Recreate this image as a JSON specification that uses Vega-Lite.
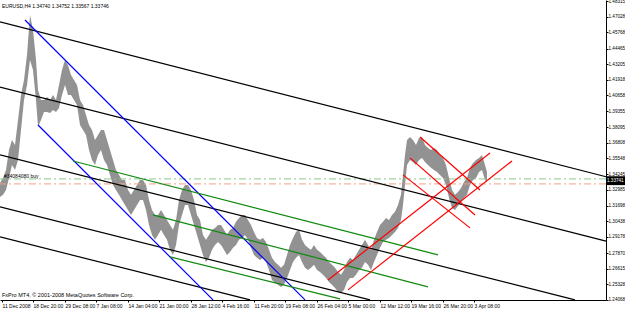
{
  "$schema": "https://vega.github.io/schema/vega-lite/v6.json",
  "width": 606,
  "height": 300,
  "autosize": "none",
  "padding": {"left": 0, "top": 0, "right": 19, "bottom": 10},
  "background": "white",
  "config": {
    "view": {"stroke": null},
    "font": "Liberation Sans, sans-serif",
    "axis": {"grid": false, "domainColor": "black", "tickColor": "black", "labelColor": "black", "labelFontSize": 5, "tickSize": 2, "labelPadding": 1, "labelOverlap": false, "labelFlush": false},
    "axisY": {"labelOverlap": false, "labelFontSize": 4.6, "labelPadding": 0, "labelAlign": "left", "labelBaseline": "middle"},
    "axisX": {"labelOverlap": false, "labelAlign": "left", "labelBaseline": "top"}
  },
  "datasets": {
    "bars": [
      {"bar":0,"high":1.3356,"low":1.3242},{"bar":3,"high":1.3396,"low":1.3259},{"bar":6,"high":1.3461,"low":1.3299},{"bar":9,"high":1.3624,"low":1.3396},{"bar":12,"high":1.3705,"low":1.3502},{"bar":15,"high":1.3664,"low":1.3461},{"bar":18,"high":1.3867,"low":1.3542},{"bar":21,"high":1.4070,"low":1.3786},{"bar":24,"high":1.4191,"low":1.4029},{"bar":27,"high":1.4394,"low":1.4151},{"bar":30,"high":1.4718,"low":1.4353},{"bar":33,"high":1.4597,"low":1.4272},{"bar":36,"high":1.4353,"low":1.4029},{"bar":38,"high":1.4110,"low":1.3810},{"bar":41,"high":1.4029,"low":1.3867},{"bar":44,"high":1.4029,"low":1.3932},{"bar":47,"high":1.4053,"low":1.3932},{"bar":50,"high":1.4029,"low":1.3924},{"bar":53,"high":1.4070,"low":1.3948},{"bar":56,"high":1.4029,"low":1.3932},{"bar":59,"high":1.4151,"low":1.3964},{"bar":62,"high":1.4272,"low":1.4070},{"bar":65,"high":1.4353,"low":1.4151},{"bar":68,"high":1.4313,"low":1.4070},{"bar":71,"high":1.4232,"low":1.4070},{"bar":74,"high":1.4191,"low":1.4029},{"bar":77,"high":1.4151,"low":1.3988},{"bar":80,"high":1.4029,"low":1.3826},{"bar":83,"high":1.3988,"low":1.3786},{"bar":86,"high":1.3907,"low":1.3745},{"bar":89,"high":1.3826,"low":1.3624},{"bar":92,"high":1.3786,"low":1.3542},{"bar":95,"high":1.3705,"low":1.3502},{"bar":98,"high":1.3745,"low":1.3583},{"bar":101,"high":1.3786,"low":1.3624},{"bar":104,"high":1.3786,"low":1.3542},{"bar":107,"high":1.3705,"low":1.3502},{"bar":110,"high":1.3624,"low":1.3421},{"bar":113,"high":1.3542,"low":1.3340},{"bar":116,"high":1.3461,"low":1.3299},{"bar":119,"high":1.3421,"low":1.3259},{"bar":122,"high":1.3380,"low":1.3218},{"bar":125,"high":1.3380,"low":1.3177},{"bar":128,"high":1.3299,"low":1.3137},{"bar":131,"high":1.3259,"low":1.3096},{"bar":134,"high":1.3299,"low":1.3137},{"bar":137,"high":1.3340,"low":1.3177},{"bar":140,"high":1.3380,"low":1.3218},{"bar":143,"high":1.3380,"low":1.3218},{"bar":146,"high":1.3340,"low":1.3137},{"bar":149,"high":1.3218,"low":1.3015},{"bar":152,"high":1.3137,"low":1.2934},{"bar":155,"high":1.3096,"low":1.2894},{"bar":158,"high":1.3096,"low":1.2934},{"bar":161,"high":1.3137,"low":1.2975},{"bar":164,"high":1.3096,"low":1.2934},{"bar":167,"high":1.3056,"low":1.2894},{"bar":170,"high":1.3015,"low":1.2813},{"bar":173,"high":1.2975,"low":1.2772},{"bar":176,"high":1.3056,"low":1.2853},{"bar":179,"high":1.3218,"low":1.3015},{"bar":182,"high":1.3299,"low":1.3096},{"bar":185,"high":1.3340,"low":1.3177},{"bar":188,"high":1.3340,"low":1.3177},{"bar":191,"high":1.3299,"low":1.3096},{"bar":194,"high":1.3218,"low":1.3015},{"bar":197,"high":1.3096,"low":1.2934},{"bar":200,"high":1.3056,"low":1.2853},{"bar":203,"high":1.2934,"low":1.2772},{"bar":206,"high":1.2894,"low":1.2715},{"bar":209,"high":1.2934,"low":1.2748},{"bar":212,"high":1.2975,"low":1.2813},{"bar":215,"high":1.2991,"low":1.2853},{"bar":218,"high":1.3015,"low":1.2877},{"bar":221,"high":1.3015,"low":1.2853},{"bar":224,"high":1.2975,"low":1.2813},{"bar":227,"high":1.2934,"low":1.2772},{"bar":230,"high":1.2975,"low":1.2796},{"bar":233,"high":1.2991,"low":1.2829},{"bar":236,"high":1.3040,"low":1.2853},{"bar":239,"high":1.3072,"low":1.2894},{"bar":242,"high":1.3096,"low":1.2910},{"bar":245,"high":1.3096,"low":1.2934},{"bar":248,"high":1.3056,"low":1.2894},{"bar":251,"high":1.3015,"low":1.2829},{"bar":254,"high":1.2958,"low":1.2772},{"bar":257,"high":1.2910,"low":1.2748},{"bar":260,"high":1.2894,"low":1.2731},{"bar":263,"high":1.2910,"low":1.2748},{"bar":266,"high":1.2877,"low":1.2715},{"bar":269,"high":1.2813,"low":1.2650},{"bar":272,"high":1.2748,"low":1.2569},{"bar":275,"high":1.2715,"low":1.2545},{"bar":278,"high":1.2691,"low":1.2529},{"bar":281,"high":1.2667,"low":1.2512},{"bar":284,"high":1.2691,"low":1.2529},{"bar":287,"high":1.2772,"low":1.2585},{"bar":290,"high":1.2853,"low":1.2650},{"bar":293,"high":1.2910,"low":1.2715},{"bar":296,"high":1.2958,"low":1.2748},{"bar":299,"high":1.2975,"low":1.2772},{"bar":302,"high":1.2894,"low":1.2715},{"bar":305,"high":1.2853,"low":1.2667},{"bar":308,"high":1.2829,"low":1.2650},{"bar":311,"high":1.2813,"low":1.2667},{"bar":314,"high":1.2853,"low":1.2691},{"bar":317,"high":1.2813,"low":1.2650},{"bar":320,"high":1.2796,"low":1.2634},{"bar":323,"high":1.2772,"low":1.2610},{"bar":326,"high":1.2748,"low":1.2585},{"bar":329,"high":1.2715,"low":1.2553},{"bar":332,"high":1.2691,"low":1.2529},{"bar":335,"high":1.2667,"low":1.2504},{"bar":338,"high":1.2634,"low":1.2472},{"bar":341,"high":1.2610,"low":1.2464},{"bar":344,"high":1.2650,"low":1.2488},{"bar":347,"high":1.2715,"low":1.2553},{"bar":350,"high":1.2748,"low":1.2585},{"bar":353,"high":1.2731,"low":1.2585},{"bar":356,"high":1.2772,"low":1.2610},{"bar":359,"high":1.2813,"low":1.2650},{"bar":362,"high":1.2853,"low":1.2667},{"bar":365,"high":1.2894,"low":1.2715},{"bar":368,"high":1.2853,"low":1.2691},{"bar":371,"high":1.2813,"low":1.2650},{"bar":374,"high":1.2894,"low":1.2715},{"bar":377,"high":1.2958,"low":1.2772},{"bar":380,"high":1.3015,"low":1.2829},{"bar":383,"high":1.3040,"low":1.2877},{"bar":386,"high":1.3072,"low":1.2894},{"bar":389,"high":1.3056,"low":1.2910},{"bar":392,"high":1.3096,"low":1.2934},{"bar":395,"high":1.3121,"low":1.2958},{"bar":398,"high":1.3177,"low":1.2991},{"bar":401,"high":1.3259,"low":1.3056},{"bar":403,"high":1.3421,"low":1.3177},{"bar":405,"high":1.3583,"low":1.3340},{"bar":407,"high":1.3705,"low":1.3502},{"bar":410,"high":1.3729,"low":1.3542},{"bar":413,"high":1.3705,"low":1.3526},{"bar":416,"high":1.3664,"low":1.3502},{"bar":419,"high":1.3721,"low":1.3542},{"bar":422,"high":1.3729,"low":1.3559},{"bar":425,"high":1.3664,"low":1.3526},{"bar":428,"high":1.3640,"low":1.3502},{"bar":431,"high":1.3624,"low":1.3478},{"bar":434,"high":1.3640,"low":1.3461},{"bar":437,"high":1.3624,"low":1.3445},{"bar":440,"high":1.3583,"low":1.3421},{"bar":443,"high":1.3559,"low":1.3396},{"bar":446,"high":1.3502,"low":1.3340},{"bar":449,"high":1.3396,"low":1.3234},{"bar":452,"high":1.3299,"low":1.3153},{"bar":455,"high":1.3259,"low":1.3137},{"bar":458,"high":1.3283,"low":1.3169},{"bar":461,"high":1.3315,"low":1.3202},{"bar":464,"high":1.3364,"low":1.3234},{"bar":467,"high":1.3396,"low":1.3259},{"bar":470,"high":1.3478,"low":1.3340},{"bar":473,"high":1.3518,"low":1.3380},{"bar":476,"high":1.3542,"low":1.3396},{"bar":479,"high":1.3559,"low":1.3445},{"bar":482,"high":1.3583,"low":1.3461},{"bar":485,"high":1.3502,"low":1.3380},{"bar":487,"high":1.3445,"low":1.3364}
    ],
    "lines": [
      {"id":"k1","g":"black","bar":0,"price":1.4662},{"id":"k1","g":"black","bar":606,"price":1.3406},
      {"id":"k2","g":"black","bar":0,"price":1.4134},{"id":"k2","g":"black","bar":606,"price":1.2884},
      {"id":"k3","g":"black","bar":0,"price":1.3583},{"id":"k3","g":"black","bar":575,"price":1.2407},
      {"id":"k4","g":"black","bar":0,"price":1.3161},{"id":"k4","g":"black","bar":370,"price":1.2407},
      {"id":"k5","g":"black","bar":0,"price":1.2918},{"id":"k5","g":"black","bar":250,"price":1.2407},
      {"id":"b1","g":"blue","bar":25,"price":1.4678},{"id":"b1","g":"blue","bar":305,"price":1.2407},
      {"id":"b2","g":"blue","bar":38,"price":1.3826},{"id":"b2","g":"blue","bar":213,"price":1.2407},
      {"id":"g1","g":"green","bar":73,"price":1.3534},{"id":"g1","g":"green","bar":438,"price":1.2772},
      {"id":"g2","g":"green","bar":153,"price":1.3096},{"id":"g2","g":"green","bar":428,"price":1.2512},
      {"id":"g3","g":"green","bar":170,"price":1.2756},{"id":"g3","g":"green","bar":340,"price":1.2415},
      {"id":"r1","g":"red","bar":328,"price":1.2569},{"id":"r1","g":"red","bar":490,"price":1.3599},
      {"id":"r2","g":"red","bar":348,"price":1.2488},{"id":"r2","g":"red","bar":512,"price":1.3534},
      {"id":"r3","g":"red","bar":420,"price":1.3729},{"id":"r3","g":"red","bar":480,"price":1.3299},
      {"id":"r4","g":"red","bar":410,"price":1.3559},{"id":"r4","g":"red","bar":475,"price":1.3096},
      {"id":"r5","g":"red","bar":403,"price":1.3421},{"id":"r5","g":"red","bar":470,"price":1.2991}
    ],
    "last": [{"bar":606,"bar2":625,"top":1.3410,"bottom":1.3338,"price":1.33741,"label":"1.33741"}]
  },
  "layer": [
    {
      "data": {"name": "bars"},
      "mark": {"type": "area", "color": "#929292", "interpolate": "linear"},
      "encoding": {
        "x": {"field": "bar", "type": "quantitative", "scale": {"domain": [0, 606], "nice": false, "zero": false},
          "axis": {"values": [2, 33, 65, 96, 128, 159, 191, 222, 254, 285, 317, 348, 380, 411, 443, 474], "tickCount": 30,
            "labelExpr": "['11 Dec 2008','18 Dec 20:00','29 Dec 08:00','7 Jan 08:00','14 Jan 04:00','21 Jan 00:00','28 Jan 12:00','4 Feb 16:00','11 Feb 20:00','19 Feb 08:00','26 Feb 04:00','5 Mar 00:00','12 Mar 12:00','19 Mar 16:00','26 Mar 20:00','3 Apr 08:00'][indexof([2,33,65,96,128,159,191,222,254,285,317,348,380,411,443,474], datum.value)]",
            "labelOverlap": false, "title": null}},
        "y": {"field": "high", "type": "quantitative", "scale": {"domain": [1.2406, 1.4840], "nice": false, "zero": false},
          "axis": {"orient": "right", "tickCount": 30, "values": [1.48315, 1.47028, 1.45768, 1.44465, 1.43205, 1.41918, 1.40658, 1.39355, 1.38095, 1.36808, 1.35548, 1.34245, 1.32985, 1.31698, 1.30438, 1.29178, 1.27870, 1.26615, 1.25328, 1.24068],
            "labelExpr": "format(datum.value, '.5f')", "labelOverlap": false, "title": null}},
        "y2": {"field": "low"}
      }
    },
    {
      "data": {"values": [{"price": 1.33883}]},
      "mark": {"type": "rule", "strokeWidth": 1, "strokeDash": [7, 3, 2, 3], "color": "#8cc98c"},
      "encoding": {
        "y": {"field": "price", "type": "quantitative"}
      }
    },
    {
      "data": {"values": [{"price": 1.33478}]},
      "mark": {"type": "rule", "strokeWidth": 1, "strokeDash": [7, 3, 2, 3], "color": "#f2a088"},
      "encoding": {
        "y": {"field": "price", "type": "quantitative"}
      }
    },
    {
      "data": {"name": "lines"},
      "mark": {"type": "line", "strokeWidth": 1.2},
      "encoding": {
        "x": {"field": "bar", "type": "quantitative"},
        "y": {"field": "price", "type": "quantitative"},
        "detail": {"field": "id"},
        "color": {"field": "g", "type": "nominal", "scale": {"domain": ["black", "blue", "green", "red"], "range": ["#000000", "#0000ff", "#108a10", "#ff0000"]}, "legend": null}
      }
    },
    {
      "data": {"name": "last"},
      "mark": {"type": "rect", "color": "black"},
      "encoding": {
        "x": {"field": "bar", "type": "quantitative"},
        "x2": {"field": "bar2"},
        "y": {"field": "top", "type": "quantitative"},
        "y2": {"field": "bottom"}
      }
    },
    {
      "data": {"name": "last"},
      "mark": {"type": "text", "color": "white", "align": "left", "baseline": "middle", "dx": 1, "fontSize": 4.6},
      "encoding": {
        "x": {"field": "bar", "type": "quantitative"},
        "y": {"field": "price", "type": "quantitative"},
        "text": {"field": "label"}
      }
    },
    {
      "data": {"values": [
        {"bar": 2, "price": 1.4792, "label": "EURUSD,H4  1.34740 1.34752 1.33567 1.33746"},
        {"bar": 4, "price": 1.3414, "label": "#34084080 buy"}
      ]},
      "mark": {"type": "text", "color": "black", "align": "left", "baseline": "middle", "fontSize": 5},
      "encoding": {
        "x": {"field": "bar", "type": "quantitative"},
        "y": {"field": "price", "type": "quantitative"},
        "text": {"field": "label"}
      }
    },
    {
      "data": {"values": [
        {"bar": 2, "price": 1.2443, "label": "FxPro MT4, © 2001-2008 MetaQuotes Software Corp."}
      ]},
      "mark": {"type": "text", "color": "black", "align": "left", "baseline": "middle", "fontSize": 5.5},
      "encoding": {
        "x": {"field": "bar", "type": "quantitative"},
        "y": {"field": "price", "type": "quantitative"},
        "text": {"field": "label"}
      }
    }
  ]
}
